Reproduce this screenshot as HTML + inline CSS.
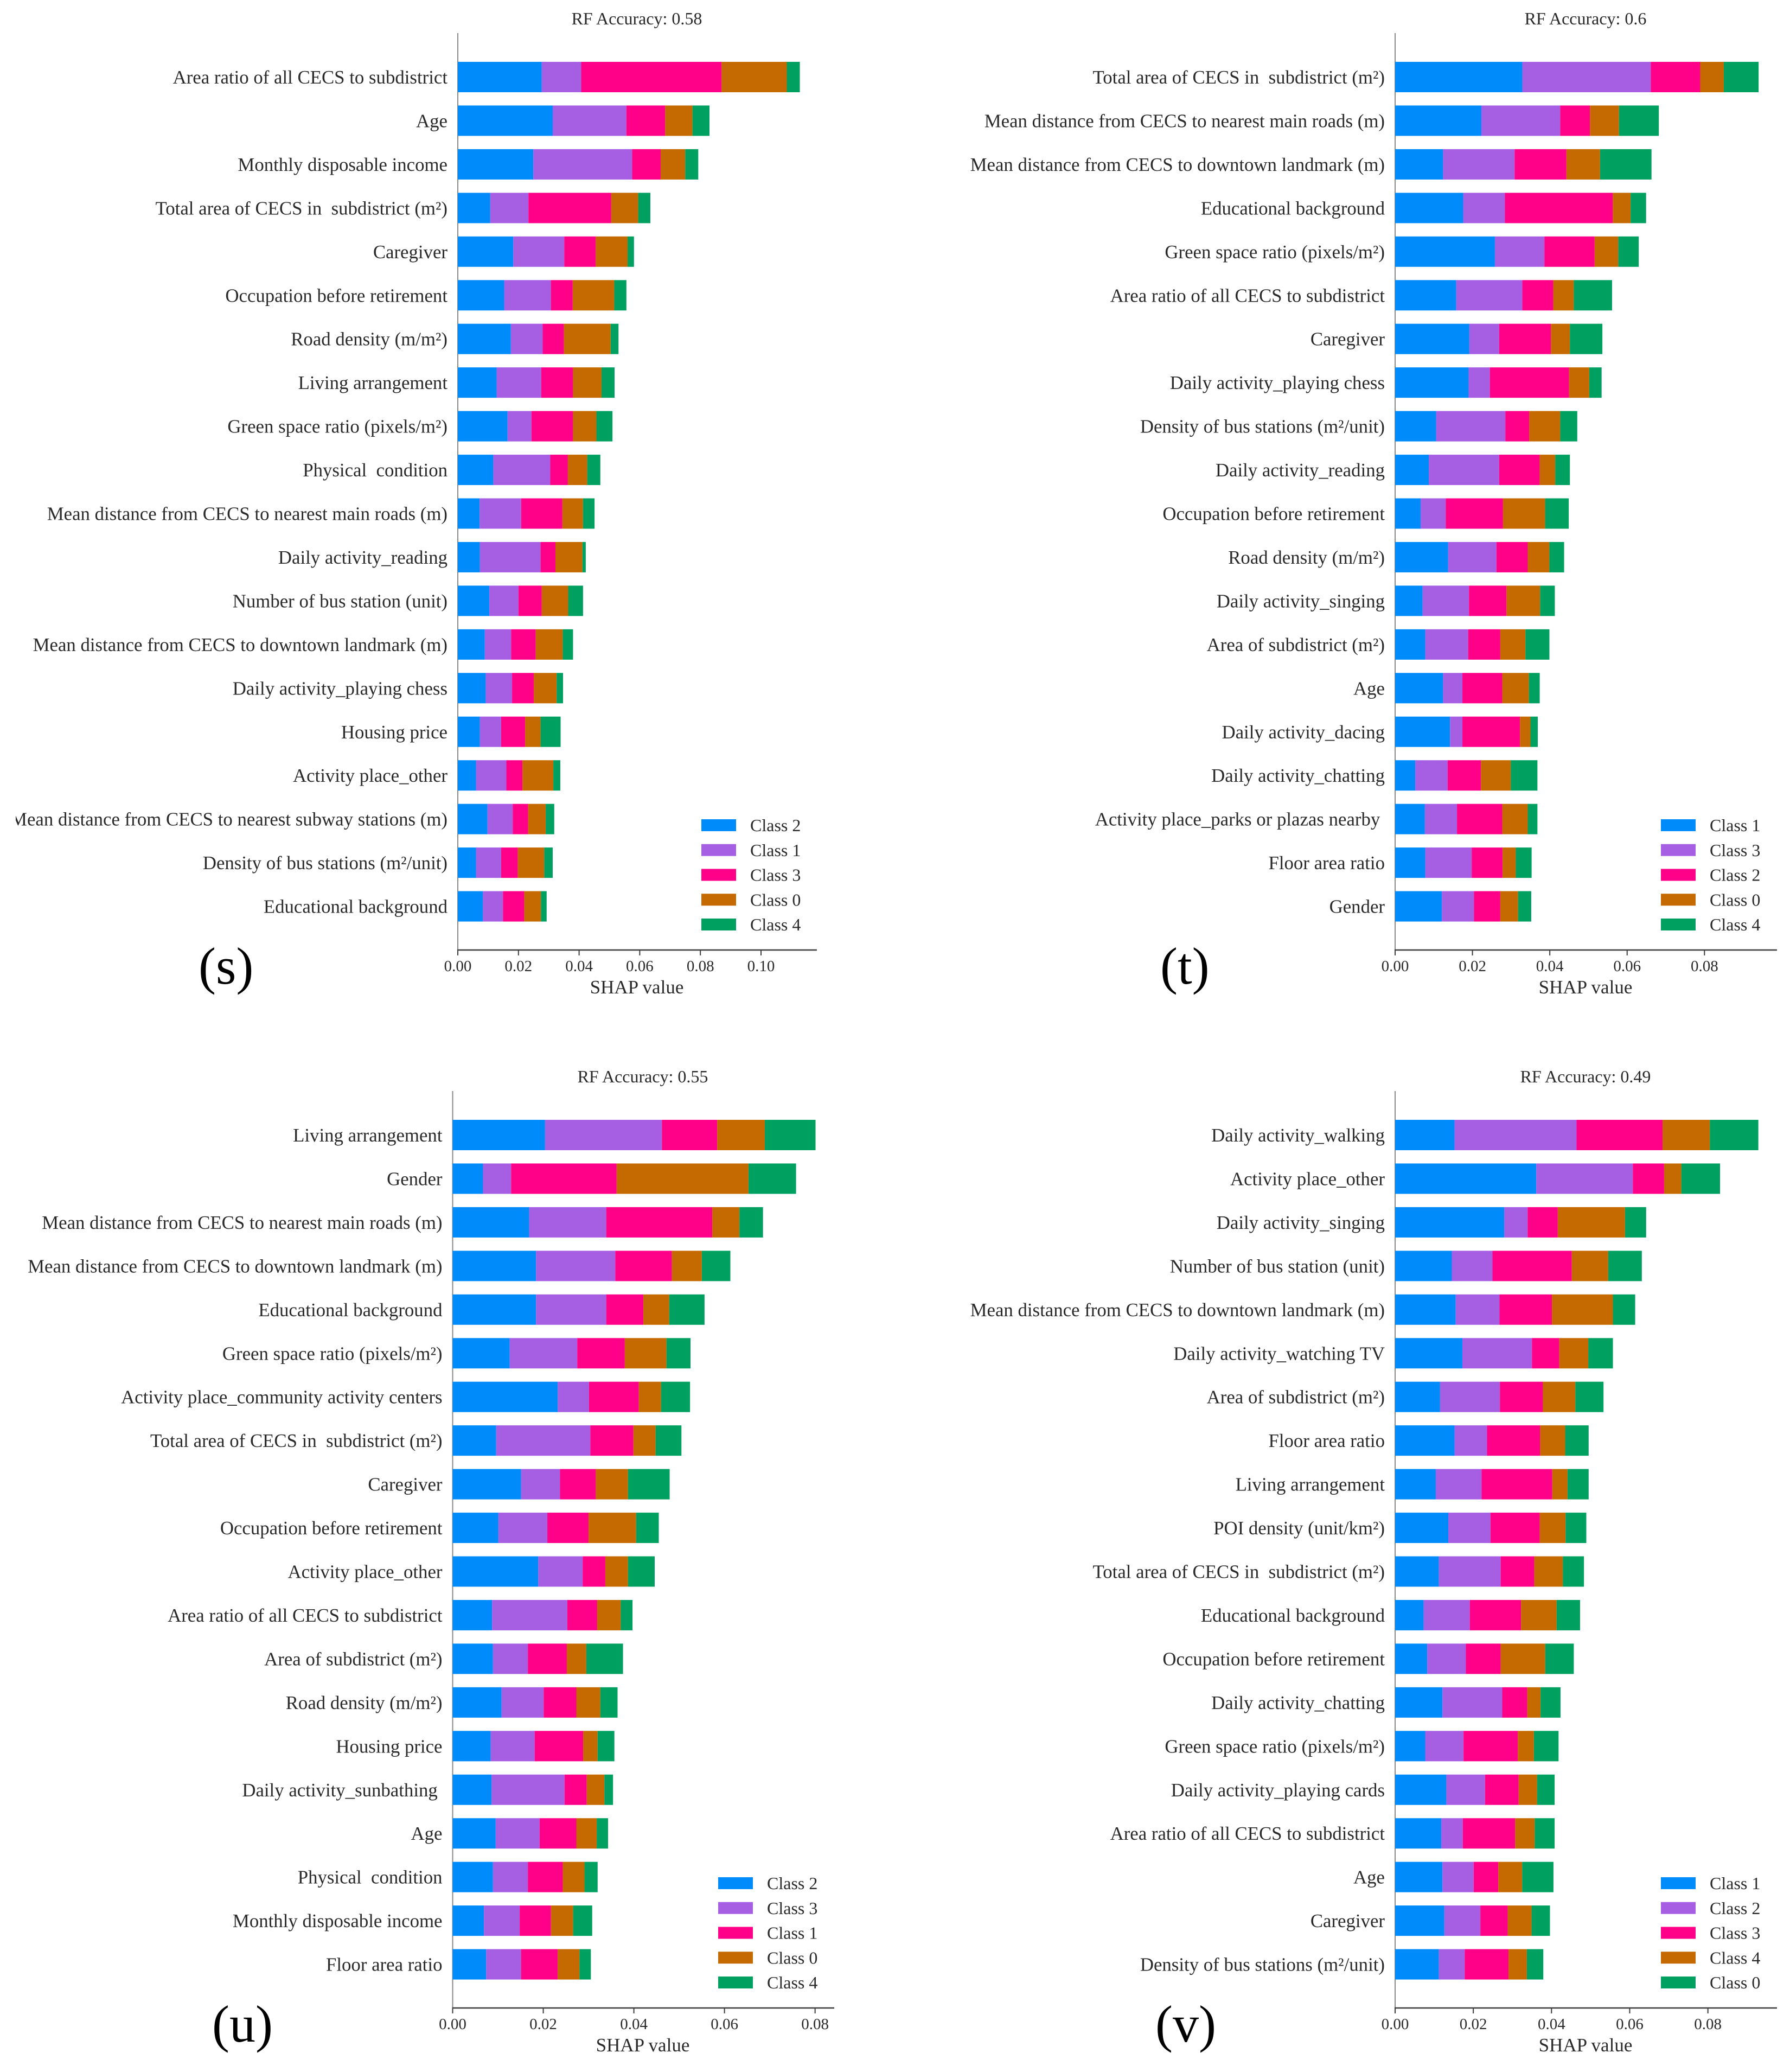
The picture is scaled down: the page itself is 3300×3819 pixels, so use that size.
<!DOCTYPE html>
<html lang="en">
<head>
<meta charset="utf-8">
<title>SHAP feature importance panels</title>
<style>
html,body{margin:0;padding:0;background:#fff;}
svg{display:block;font-family:"Liberation Serif","Times New Roman",serif;}
text{white-space:pre;fill:#2a2a2a;}
</style>
</head>
<body>
<svg id="figure" xmlns="http://www.w3.org/2000/svg" width="3300" height="3819" viewBox="0 0 3300 3819">
<defs><clipPath id="left-clip"><rect x="29" y="0" width="1621" height="3819"/></clipPath></defs>
<rect x="0" y="0" width="3300" height="3819" fill="#ffffff"/>
</svg>
<script>
// Panel (s)
const sTitle = "RF Accuracy: 0.58";
const sCategories = ["Area ratio of all CECS to subdistrict","Age","Monthly disposable income","Total area of CECS in  subdistrict (m²)","Caregiver","Occupation before retirement","Road density (m/m²)","Living arrangement","Green space ratio (pixels/m²)","Physical  condition","Mean distance from CECS to nearest main roads (m)","Daily activity_reading","Number of bus station (unit)","Mean distance from CECS to downtown landmark (m)","Daily activity_playing chess","Housing price","Activity place_other","Mean distance from CECS to nearest subway stations (m)","Density of bus stations (m²/unit)","Educational background"];
const sLegend = ["Class 2","Class 1","Class 3","Class 0","Class 4"];
const sTicks = [0,0.02,0.04,0.06,0.08,0.10];
const sClass2 = [.0277,.0313,.0249,.0107,.0183,.0153,.0175,.0128,.0164,.0117,.0072,.0073,.0104,.0089,.0092,.0073,.0060,.0098,.0060,.0083];
const sClass1 = [.0130,.0243,.0326,.0126,.0168,.0154,.0105,.0147,.0079,.0188,.0137,.0200,.0096,.0087,.0087,.0070,.0100,.0083,.0083,.0066];
const sClass3 = [.0463,.0128,.0094,.0273,.0104,.0072,.0070,.0105,.0137,.0058,.0136,.0049,.0077,.0081,.0072,.0079,.0053,.0051,.0055,.0070];
const sClass0 = [.0215,.0090,.0081,.0089,.0105,.0137,.0154,.0094,.0077,.0064,.0068,.0089,.0087,.0089,.0075,.0051,.0102,.0058,.0087,.0055];
const sClass4 = [.0043,.0056,.0043,.0040,.0021,.0040,.0026,.0043,.0053,.0043,.0038,.0011,.0049,.0034,.0021,.0066,.0023,.0028,.0028,.0019];

// Panel (t)
const tTitle = "RF Accuracy: 0.6";
const tCategories = ["Total area of CECS in  subdistrict (m²)","Mean distance from CECS to nearest main roads (m)","Mean distance from CECS to downtown landmark (m)","Educational background","Green space ratio (pixels/m²)","Area ratio of all CECS to subdistrict","Caregiver","Daily activity_playing chess","Density of bus stations (m²/unit)","Daily activity_reading","Occupation before retirement","Road density (m/m²)","Daily activity_singing","Area of subdistrict (m²)","Age","Daily activity_dacing","Daily activity_chatting","Activity place_parks or plazas nearby ","Floor area ratio","Gender"];
const tLegend = ["Class 1","Class 3","Class 2","Class 0","Class 4"];
const tTicks = [0,0.02,0.04,0.06,0.08];
const tClass1 = [.0329,.0223,.0124,.0176,.0258,.0158,.0192,.0190,.0106,.0087,.0066,.0137,.0071,.0078,.0124,.0142,.0052,.0077,.0078,.0121];
const tClass3 = [.0332,.0204,.0185,.0108,.0128,.0171,.0077,.0055,.0179,.0182,.0065,.0125,.0120,.0111,.0050,.0032,.0084,.0083,.0120,.0083];
const tClass2 = [.0128,.0077,.0134,.0279,.0130,.0080,.0134,.0205,.0062,.0105,.0148,.0081,.0097,.0083,.0103,.0149,.0086,.0117,.0080,.0068];
const tClass0 = [.0061,.0075,.0087,.0046,.0061,.0053,.0049,.0052,.0080,.0040,.0109,.0056,.0087,.0065,.0069,.0027,.0077,.0066,.0034,.0046];
const tClass4 = [.0090,.0103,.0133,.0040,.0053,.0099,.0084,.0032,.0044,.0038,.0061,.0038,.0038,.0062,.0028,.0019,.0069,.0025,.0041,.0034];

// Panel (u)
const uTitle = "RF Accuracy: 0.55";
const uCategories = ["Living arrangement","Gender","Mean distance from CECS to nearest main roads (m)","Mean distance from CECS to downtown landmark (m)","Educational background","Green space ratio (pixels/m²)","Activity place_community activity centers","Total area of CECS in  subdistrict (m²)","Caregiver","Occupation before retirement","Activity place_other","Area ratio of all CECS to subdistrict","Area of subdistrict (m²)","Road density (m/m²)","Housing price","Daily activity_sunbathing ","Age","Physical  condition","Monthly disposable income","Floor area ratio"];
const uLegend = ["Class 2","Class 3","Class 1","Class 0","Class 4"];
const uTicks = [0,0.02,0.04,0.06,0.08];
const uClass2 = [.0204,.0067,.0169,.0184,.0184,.0126,.0232,.0096,.0151,.0101,.0189,.0087,.0089,.0108,.0084,.0086,.0095,.0089,.0069,.0074];
const uClass3 = [.0258,.0062,.0170,.0175,.0155,.0149,.0069,.0208,.0086,.0108,.0098,.0166,.0077,.0093,.0097,.0161,.0097,.0077,.0079,.0077];
const uClass1 = [.0122,.0233,.0234,.0125,.0082,.0105,.0110,.0095,.0079,.0091,.0050,.0066,.0086,.0072,.0107,.0049,.0081,.0077,.0069,.0081];
const uClass0 = [.0105,.0291,.0060,.0066,.0057,.0092,.0049,.0049,.0071,.0105,.0050,.0052,.0043,.0053,.0032,.0039,.0045,.0048,.0049,.0048];
const uClass4 = [.0112,.0105,.0052,.0063,.0078,.0053,.0064,.0057,.0092,.0050,.0059,.0026,.0081,.0038,.0037,.0019,.0025,.0029,.0042,.0025];

// Panel (v)
const vTitle = "RF Accuracy: 0.49";
const vCategories = ["Daily activity_walking","Activity place_other","Daily activity_singing","Number of bus station (unit)","Mean distance from CECS to downtown landmark (m)","Daily activity_watching TV","Area of subdistrict (m²)","Floor area ratio","Living arrangement","POI density (unit/km²)","Total area of CECS in  subdistrict (m²)","Educational background","Occupation before retirement","Daily activity_chatting","Green space ratio (pixels/m²)","Daily activity_playing cards","Area ratio of all CECS to subdistrict","Age","Caregiver","Density of bus stations (m²/unit)"];
const vLegend = ["Class 1","Class 2","Class 3","Class 4","Class 0"];
const vTicks = [0,0.02,0.04,0.06,0.08];
const vClass1 = [.0152,.0361,.0279,.0145,.0155,.0172,.0115,.0152,.0104,.0136,.0112,.0073,.0082,.0121,.0077,.0131,.0118,.0121,.0126,.0112];
const vClass2 = [.0312,.0247,.0060,.0104,.0112,.0178,.0153,.0083,.0117,.0108,.0158,.0118,.0099,.0153,.0098,.0099,.0055,.0080,.0092,.0066];
const vClass3 = [.0220,.0080,.0077,.0203,.0134,.0070,.0110,.0136,.0181,.0126,.0086,.0131,.0089,.0064,.0139,.0086,.0134,.0063,.0070,.0112];
const vClass4 = [.0121,.0044,.0172,.0093,.0156,.0074,.0083,.0064,.0039,.0066,.0073,.0091,.0114,.0034,.0041,.0047,.0050,.0061,.0061,.0047];
const vClass0 = [.0124,.0099,.0054,.0086,.0057,.0063,.0072,.0060,.0054,.0053,.0054,.0060,.0073,.0051,.0063,.0045,.0051,.0080,.0047,.0042];

const segmentColors = ["#008bfb","#a65fe3","#ff0088","#c46a00","#00a060"];

const svg = document.getElementById('figure');
const NS = 'http://www.w3.org/2000/svg';

function make(tag, attrs, parent) {
  const el = document.createElementNS(NS, tag);
  for (const k in attrs) el.setAttribute(k, attrs[k]);
  parent.appendChild(el);
  return el;
}

function drawPanel(p) {
  const xScale = v => p.x0 + v * p.pxPerUnit;
  const barY = i => p.top + 53 + i * 80.45;

  const g = make('g', {}, svg);
  
  

  const title = make('text', {x: p.titleX, y: p.top - 16, 'text-anchor': 'middle', 'font-size': 32}, g);
  title.textContent = p.title;
  
  

  const yAxis = make('line', {x1: p.x0, x2: p.x0, y1: p.top, y2: p.top + 1690, stroke: '#8a8a8a', 'stroke-width': 2}, g);
  
  

  const labelGroup = make('g', {}, g);
  
  
  if (p.clip) labelGroup.setAttribute('clip-path', 'url(#left-clip)');

  const barGroup = make('g', {}, g);
  
  

  p.categories.forEach((cat, i) => {
    const y = barY(i);
    const label = make('text', {x: p.x0 - 19, y: y + 40, 'text-anchor': 'end', 'font-size': 34.8}, labelGroup);
    label.textContent = cat;
    
    
    let cum = 0;
    p.series.forEach((arr, s) => {
      const v = arr[i];
      const rect = make('rect', {x: xScale(cum), y: y, width: xScale(cum + v) - xScale(cum), height: 56, fill: segmentColors[s]}, barGroup);
      
      
      cum += v;
    });
  });

  const xAxis = make('line', {x1: p.x0 - 1, x2: p.xEnd, y1: p.top + 1690, y2: p.top + 1690, stroke: '#3c3c3c', 'stroke-width': 2.5}, g);
  
  

  p.ticks.forEach(t => {
    const tick = make('line', {x1: xScale(t), x2: xScale(t), y1: p.top + 1690, y2: p.top + 1700, stroke: '#3c3c3c', 'stroke-width': 2}, g);
    
    
    const tl = make('text', {x: xScale(t), y: p.top + 1729, 'text-anchor': 'middle', 'font-size': 29}, g);
    tl.textContent = t.toFixed(2);
    
    
  });

  const xTitle = make('text', {x: p.titleX, y: p.top + 1770, 'text-anchor': 'middle', 'font-size': 35}, g);
  xTitle.textContent = 'SHAP value';
  
  

  p.legend.forEach((name, i) => {
    const cy = p.top + 1460 + i * 45.75;
    const swatch = make('rect', {x: p.legendX, y: cy - 11, width: 64, height: 22, fill: segmentColors[i]}, g);
    
    
    const lt = make('text', {x: p.legendX + 90, y: cy + 11, 'font-size': 32}, g);
    lt.textContent = name;
    
    
  });

  const panelLabel = make('text', {x: p.tagX, y: p.top + 1752, 'font-size': 96, style: 'fill:#000'}, g);
  panelLabel.textContent = '(' + p.id + ')';
  
  
}

drawPanel({id:'s', title:sTitle, categories:sCategories, legend:sLegend, ticks:sTicks,
  series:[sClass2,sClass1,sClass3,sClass0,sClass4],
  x0:844, pxPerUnit:5590, top:61, xEnd:1506, titleX:1174, legendX:1293, tagX:366, clip:true});
drawPanel({id:'t', title:tTitle, categories:tCategories, legend:tLegend, ticks:tTicks,
  series:[tClass1,tClass3,tClass2,tClass0,tClass4],
  x0:2572, pxPerUnit:7129, top:61, xEnd:3276, titleX:2923, legendX:3062, tagX:2139});
drawPanel({id:'u', title:uTitle, categories:uCategories, legend:uLegend, ticks:uTicks,
  series:[uClass2,uClass3,uClass1,uClass0,uClass4],
  x0:834.5, pxPerUnit:8352, top:2011, xEnd:1538, titleX:1185, legendX:1324, tagX:391});
drawPanel({id:'v', title:vTitle, categories:vCategories, legend:vLegend, ticks:vTicks,
  series:[vClass1,vClass2,vClass3,vClass4,vClass0],
  x0:2572, pxPerUnit:7208, top:2011, xEnd:3276, titleX:2923, legendX:3062, tagX:2130});
</script>
</body>
</html>
